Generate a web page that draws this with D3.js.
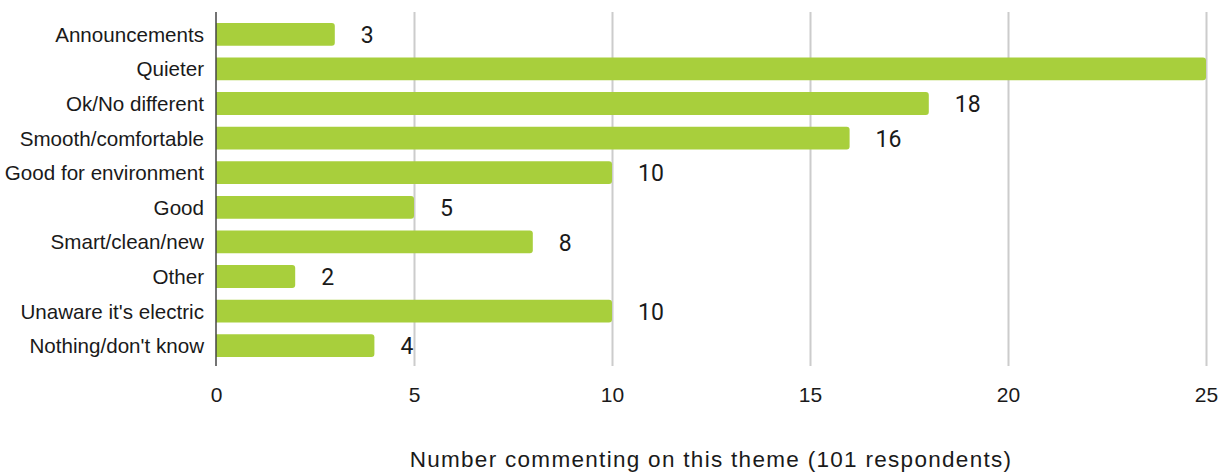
<!DOCTYPE html>
<html>
<head>
<meta charset="utf-8">
<script src="https://cdn.jsdelivr.net/npm/d3@7"></script>
<style>
  body { margin: 0; background: #fff; }
  text { fill: #1a1a1a; }
</style>
</head>
<body>
<div id="chart-area"></div>
<script>

// Data
var themes = ["Announcements", "Quieter", "Ok/No different", "Smooth/comfortable",
    "Good for environment", "Good", "Smart/clean/new", "Other",
    "Unaware it's electric", "Nothing/don't know"];
var counts = [3, 25, 18, 16, 10, 5, 8, 2, 10, 4];
var xTicks = [0, 5, 10, 15, 20, 25];
var axisTitle = "Number commenting on this theme (101 respondents)";

var data = themes.map((t, i) => ({theme: t, count: counts[i]}));

// SVG drawing area
var margin = {top: 12, right: 20, bottom: 106, left: 216};
var width = 1226 - margin.left - margin.right,
    height = 472 - margin.top - margin.bottom;

var svg = d3.select("#chart-area").append("svg")
    .attr("width", 1226)
    .attr("height", 472)
    .append("g")
    .attr("transform", `translate(${margin.left}, ${margin.top})`);

// Scales
var x = d3.scaleLinear()
    .domain([0, 25])
    .range([0, width]);

var y = d3.scaleBand()
    .domain(themes)
    .range([5, height - 3])
    .paddingInner(0.34)
    .paddingOuter(0.17);

// Gridlines
svg.append("g")
    .attr("class", "grid")
    .attr("transform", `translate(0, ${height})`)
    .call(d3.axisBottom(x).tickValues(xTicks.slice(1)).tickSize(-height).tickFormat(""))
    .call(g => g.select(".domain").remove())
    .call(g => g.selectAll("line").attr("stroke", "#cccccc").attr("stroke-width", 2));

// Tick labels
svg.append("g")
    .attr("class", "x-axis")
    .attr("transform", `translate(0, ${height})`)
    .call(d3.axisBottom(x).tickValues(xTicks).tickSize(0).tickPadding(21))
    .call(g => g.select(".domain").remove())
    .call(g => g.selectAll("text")
        .attr("font-family", "'Liberation Sans', Arial, sans-serif")
        .attr("font-size", 21)
        .attr("fill", "#1a1a1a"));

// Bars with rounded right end
var r = 3;
function barPath(d) {
    var x0 = x(0), x1 = x(d.count), y0 = y(d.theme), h = y.bandwidth();
    return `M${x0},${y0}H${x1 - r}Q${x1},${y0} ${x1},${y0 + r}` +
        `V${y0 + h - r}Q${x1},${y0 + h} ${x1 - r},${y0 + h}H${x0}Z`;
}

svg.selectAll(".bar")
    .data(data)
    .join("path")
    .attr("class", "bar")
    .attr("d", barPath)
    .attr("fill", "#a8cf3c");

// Value labels (the ones that would fall outside the plot are not shown)
svg.selectAll(".value")
    .data(data.filter(d => x(d.count) + 26 < width))
    .join("text")
    .attr("class", "value")
    .attr("x", d => x(d.count) + 26)
    .attr("y", d => y(d.theme) + y.bandwidth() / 2)
    .attr("dy", "0.38em")
    .attr("font-family", "Roboto, sans-serif")
    .attr("font-size", 23)
    .text(d => d.count);

// Category axis
svg.append("g")
    .attr("class", "y-axis")
    .call(d3.axisLeft(y).tickSize(0).tickPadding(12))
    .call(g => g.select(".domain").remove())
    .call(g => g.selectAll("text")
        .attr("font-family", "'Liberation Sans', Arial, sans-serif")
        .attr("font-size", 20.6)
        .attr("dy", "0.36em")
        .attr("fill", "#1a1a1a"));

svg.append("line")
    .attr("x1", x(0)).attr("x2", x(0))
    .attr("y1", 0).attr("y2", height)
    .attr("stroke", "#444")
    .attr("stroke-width", 1.5);

// Axis title
svg.append("text")
    .attr("x", width / 2)
    .attr("y", height + 101)
    .attr("text-anchor", "middle")
    .attr("font-family", "'Liberation Sans', Arial, sans-serif")
    .attr("font-size", 22.5)
    .attr("letter-spacing", 1.3)
    .text(axisTitle);

</script>
</body>
</html>
